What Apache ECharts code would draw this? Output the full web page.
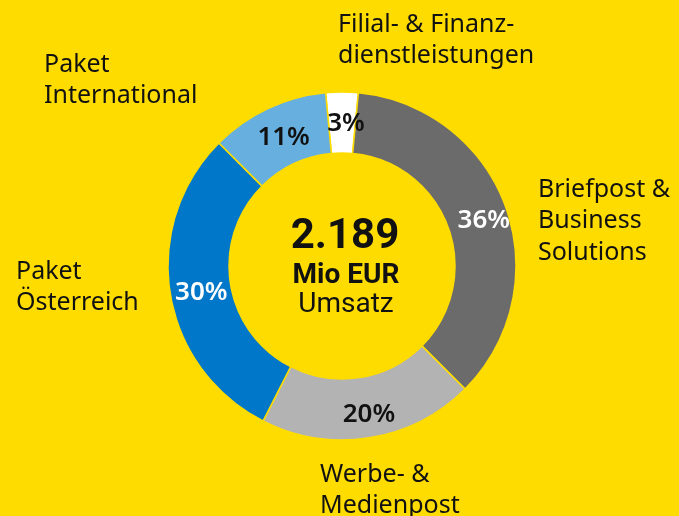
<!DOCTYPE html>
<html>
<head>
<meta charset="utf-8">
<script src="https://cdn.jsdelivr.net/npm/echarts@6/dist/echarts.min.js"></script>
<style>
  html, body { margin: 0; padding: 0; background: #FFDC00; }
  #chart { width: 679px; height: 516px; }
</style>
</head>
<body>
<div id="chart"></div>
<script>
// clockwise from the top
const categories = [
    'Filial- & Finanz-\ndienstleistungen',
    'Briefpost &\nBusiness\nSolutions',
    'Werbe- &\nMedienpost',
    'Paket\nÖsterreich',
    'Paket\nInternational'
];
const shares = [3, 36, 20, 30, 11];
const totalValue = '2.189';
const totalUnit = 'Mio EUR';
const totalLabel = 'Umsatz';

const sliceColors = ['#ffffff', '#6b6b6b', '#b3b3b3', '#0077c8', '#66afdf'];
const labelColors = ['#111', '#fff', '#111', '#fff', '#111'];
const namePos = [[338, 9], [538, 174], [320, 459], [16, 256], [44, 49]];

const chart = echarts.init(document.getElementById('chart'));
const font = 'Roboto, "Noto Sans", sans-serif';
const nameFont = '"Noto Sans", Roboto, sans-serif';

const option = {
    backgroundColor: '#FFDC00',
    animation: false,
    series: [{
        type: 'pie',
        center: [342, 266],
        radius: [113, 174],
        startAngle: 90 + 5.4,
        clockwise: true,
        data: shares.map((v, i) => ({
            value: v,
            name: categories[i],
            itemStyle: { color: sliceColors[i] },
            label: { color: labelColors[i] }
        })),
        itemStyle: { borderColor: '#FFDC00', borderWidth: 1.5 },
        label: {
            position: 'inside',
            formatter: p => p.value + '%',
            fontFamily: nameFont,
            fontSize: 26,
            fontWeight: 600,
            offset: [4, 4]
        },
        labelLine: { show: false },
        emphasis: { disabled: true }
    }],
    graphic: categories.map((c, i) => ({
        type: 'text',
        left: namePos[i][0],
        top: namePos[i][1],
        style: {
            text: c,
            fill: '#111',
            font: '400 25px ' + nameFont,
            lineHeight: 31.5
        }
    })).concat([
        {
            type: 'text', x: 345, y: 237,
            style: { text: totalValue, fill: '#111', font: 'bold 42px ' + font, align: 'center', verticalAlign: 'middle' }
        },
        {
            type: 'text', x: 346, y: 276,
            style: { text: totalUnit, fill: '#111', font: 'bold 28px ' + font, align: 'center', verticalAlign: 'middle' }
        },
        {
            type: 'text', x: 346, y: 305,
            style: { text: totalLabel, fill: '#111', font: '400 28px ' + font, align: 'center', verticalAlign: 'middle' }
        }
    ])
};
chart.setOption(option);
</script>
</body>
</html>
